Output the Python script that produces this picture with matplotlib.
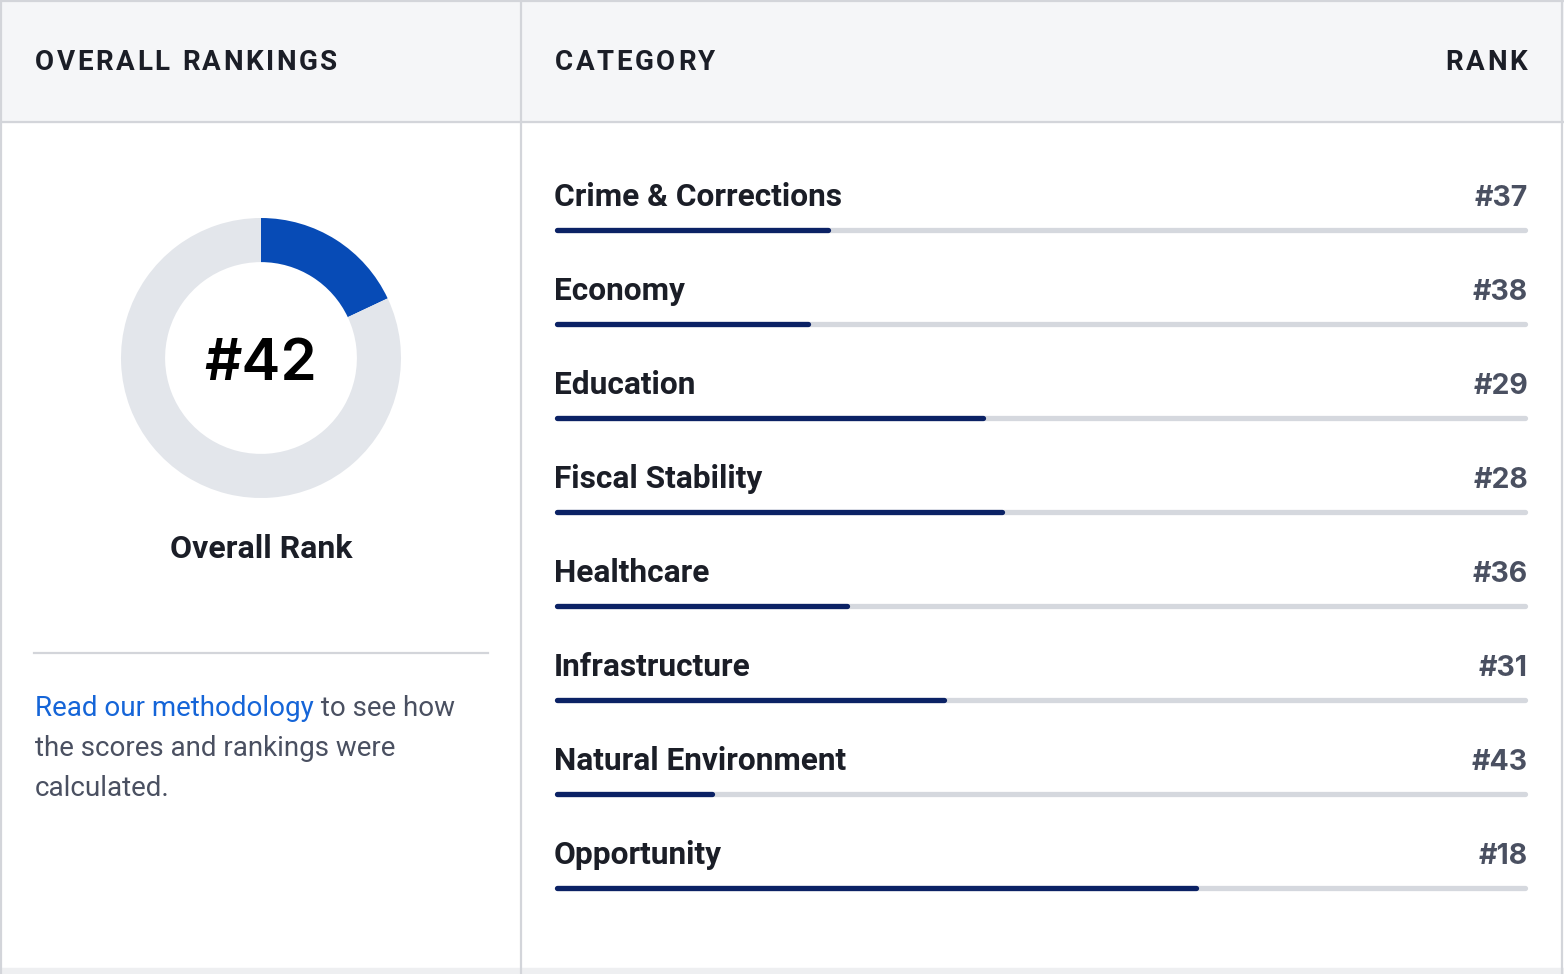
import matplotlib.pyplot as plt

W, H = 1564, 974

# chart data
categories = ['Crime & Corrections', 'Economy', 'Education', 'Fiscal Stability',
              'Healthcare', 'Infrastructure', 'Natural Environment', 'Opportunity']
ranks = [37, 38, 29, 28, 36, 31, 43, 18]
overall_rank = 42
n_states = 50

# colours
header_bg = '#f5f6f8'
border = '#d3d5da'
dark = '#1b1e27'
gray_text = '#4a5061'
navy = '#0b2265'
track = '#d5d8de'
donut_blue = '#074bb6'
donut_gray = '#e3e6eb'
link_blue = '#1565d8'


def score(rank):
    # longer bar for a better rank
    return n_states + 1 - rank


def text_width(ax, s, renderer, **kw):
    t = ax.text(0, 0, s, **kw)
    w = t.get_window_extent(renderer).width
    t.remove()
    return w


# draws text with letter spacing (matplotlib has no tracking option)
def spaced_text(ax, x, y, s, spacing, renderer, ha='left', **kw):
    total = text_width(ax, s, renderer, **kw) + spacing * (len(s) - 1)
    if ha == 'right':
        x = x - total
    for i, ch in enumerate(s):
        off = text_width(ax, s[:i], renderer, **kw) if i else 0
        ax.text(x + off + i * spacing, y, ch, ha='left', **kw)


fig = plt.figure(figsize=(W / 100, H / 100), dpi=100)
fig.patch.set_facecolor('white')
renderer = fig.canvas.get_renderer()

ax = fig.add_axes([0, 0, 1, 1])
ax.set_xlim(0, W)
ax.set_ylim(H, 0)
ax.axis('off')

# header band and borders
ax.add_patch(plt.Rectangle((0, 0), W, 122, color=header_bg, zorder=0))
ax.plot([0, W], [122, 122], color=border, lw=1.6)
ax.plot([0, W], [1, 1], color=border, lw=1.6)
ax.plot([1, 1], [0, H], color=border, lw=1.6)
ax.plot([W - 2, W - 2], [0, H], color=border, lw=1.6)
ax.plot([521, 521], [0, H], color=border, lw=1.6)
ax.add_patch(plt.Rectangle((0, H - 6), W, 6, color='#eeeff1', zorder=0))

head_kw = dict(fontsize=20, fontweight='bold', color=dark, va='center', family='Roboto')
spaced_text(ax, 35, 62, 'OVERALL RANKINGS', 2.6, renderer, **head_kw)
spaced_text(ax, 555, 62, 'CATEGORY', 2.6, renderer, **head_kw)
spaced_text(ax, 1527, 62, 'RANK', 2.6, renderer, ha='right', **head_kw)

# donut for overall rank
dax = fig.add_axes([121 / W, (H - 498) / H, 280 / W, 280 / H])
dax.pie([score(overall_rank), n_states - score(overall_rank)],
        colors=[donut_blue, donut_gray], startangle=90, counterclock=False,
        radius=1, wedgeprops=dict(width=0.315, linewidth=0))
dax.set_xlim(-1, 1)
dax.set_ylim(-1, 1)
dax.axis('off')

ax.text(261, 365, '#%d' % overall_rank, fontsize=42, fontweight='semibold',
        family='Inter', color='black', ha='center', va='center')
ax.text(261, 549, 'Overall Rank', fontsize=23, fontweight='bold', family='Roboto',
        color=dark, ha='center', va='center')

ax.plot([34, 488], [653, 653], color=border, lw=1.6)

# methodology note
para_kw = dict(fontsize=20, family='Roboto', va='center')
link = 'Read our methodology'
ax.text(35, 708, link, color=link_blue, **para_kw)
lw_ = text_width(ax, link, renderer, **para_kw)
ax.text(35 + lw_, 708, ' to see how', color=gray_text, **para_kw)
ax.text(35, 748, 'the scores and rankings were', color=gray_text, **para_kw)
ax.text(35, 788, 'calculated.', color=gray_text, **para_kw)

# category bars
bax = fig.add_axes([556.5 / W, 0, (1525.5 - 556.5) / W, 1])
bax.set_xlim(0, n_states)
bax.set_ylim(H, 0)
bax.axis('off')
for i, (cat, r) in enumerate(zip(categories, ranks)):
    y = 230 + 94 * i
    bax.plot([0, n_states], [y, y], color=track, lw=3.8, solid_capstyle='round',
             clip_on=False)
    bax.plot([0, score(r)], [y, y], color=navy, lw=3.8, solid_capstyle='round',
             clip_on=False)
    ax.text(554, y - 33, cat, fontsize=22.8, fontweight='bold', family='Roboto',
            color=dark, va='center', ha='left')
    ax.text(1528, y - 32, '#%d' % r, fontsize=20.5, fontweight='bold', family='Inter',
            color=gray_text, va='center', ha='right')

fig.savefig('out.png', dpi=100)
